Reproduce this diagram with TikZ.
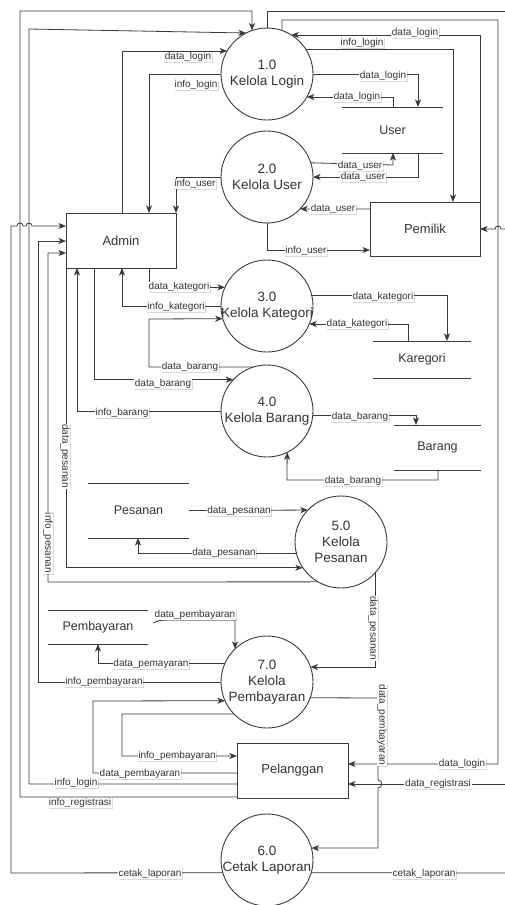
\documentclass[tikz,border=0pt]{standalone}
\usepackage{fontspec}
\setmainfont{Liberation Sans}
\usetikzlibrary{arrows.meta,calc,shadows}

\definecolor{ln}{HTML}{3A3A3A}
\definecolor{tx}{HTML}{333333}

\begin{document}
\begin{tikzpicture}[x=1pt,y=-1pt,
  flow/.style={draw=ln, line width=0.8pt},
  arr/.style={flow, -{Stealth[length=7.5pt,width=6pt,inset=2pt]}},
  proc/.style={circle, draw=ln, line width=0.9pt, fill=white, minimum size=92pt, inner sep=0pt, outer sep=0pt},
  ptext/.style={text=tx, font=\fontsize{13.5}{16}\selectfont, align=center, inner sep=0pt},
  ent/.style={rectangle, draw=ln, line width=0.9pt, fill=white, inner sep=0pt, outer sep=0pt, text=tx, font=\fontsize{13}{15}\selectfont},
  store/.style={rectangle, inner sep=0pt, outer sep=0pt, text=tx, font=\fontsize{12.5}{15}\selectfont},
  storeline/.style={draw=ln, line width=0.9pt},
  lbl/.style={fill=white, inner sep=0.8pt, text=tx, font=\fontsize{10}{11}\selectfont,
    drop shadow={shadow xshift=0.8pt,shadow yshift=-0.8pt,opacity=0.15,fill=black}},
  vlbl/.style={lbl, rotate=-90},
]
\clip (0,0) rectangle (505,905);
\fill[white] (0,0) rectangle (505,905);

% ---------- processes ----------
\node[proc, label={[ptext]center:{1.0\\Kelola Login}}] (p1) at (267,74) {};
\node[proc, label={[ptext]center:{2.0\\Kelola User}}] (p2) at (267,177) {};
\node[proc, label={[ptext]center:{3.0\\Kelola Kategori}}] (p3) at (267,306) {};
\node[proc, label={[ptext]center:{4.0\\Kelola Barang}}] (p4) at (267,411) {};
\node[proc, label={[ptext]center:{5.0\\Kelola\\Pesanan}}] (p5) at (341,542) {};
\node[proc, label={[ptext]center:{7.0\\Kelola\\Pembayaran}}] (p7) at (267,682) {};
\node[proc, label={[ptext]center:{6.0\\Cetak Laporan}}] (p6) at (267,860) {};

% ---------- external entities ----------
\node[ent, minimum width=110pt, minimum height=55pt] (admin) at (121,240.5) {Admin};
\node[ent, minimum width=110pt, minimum height=54pt] (pemilik) at (425,229) {Pemilik};
\node[ent, minimum width=111pt, minimum height=55pt] (pelanggan) at (292.5,770.5) {Pelanggan};

% ---------- data stores ----------
\node[store, minimum width=101pt, minimum height=46pt] (user) at (392.5,130) {User};
\node[store, minimum width=98pt, minimum height=37pt] (kategori) at (422,359.5) {Karegori};
\node[store, minimum width=87pt, minimum height=45pt] (barang) at (437.5,447.5) {Barang};
\node[store, minimum width=101pt, minimum height=55pt] (pesanan) at (138.5,510.5) {Pesanan};
\node[store, minimum width=100pt, minimum height=34pt] (pembayaran) at (98,627) {Pembayaran};
\foreach \s in {user,kategori,barang,pesanan,pembayaran}{
  \draw[storeline] (\s.north west) -- (\s.north east) (\s.south west) -- (\s.south east);
}

% ---------- flows: Admin and Kelola Login / User ----------
\draw[arr] ($(admin.north west)+(56,0)$) |- (p1.150);
\draw[arr] (p1.180) -| ($(admin.north west)+(83,0)$);
\draw[arr] (p2.180) -| (admin.north east);

% ---------- flows from Pelanggan to Kelola Login (left side) ----------
\draw[arr] ($(pelanggan.south west)+(0,-1)$) -- (20,797) -- (20,11) -- (252,11) -- (p1.109);
\draw[arr] ($(pelanggan.south west)+(0,-14)$) -- (29,784) -- (29,29) -- (p1.117);

% ---------- flows into Admin from the left ----------
\draw[arr] (p6.196) -- (11,873) -- (11,226) -- (17,226)
  .. controls (17,222) and (23,222) .. (23,226) -- (26,226)
  .. controls (26,222) and (32,222) .. (32,226) -- ($(admin.north west)+(0,13)$);
\draw[arr] (p7.180) -- (38,682) -- (38,241) -- ($(admin.north west)+(0,28)$);
\draw[arr] (p5.240) -- (48,582) -- (48,253) -- ($(admin.north west)+(0,40)$);
\draw[arr] (admin.south west) |- (p5.214);

% ---------- Admin and Kelola Kategori / Barang ----------
\draw[arr] (p4.180) -| ($(admin.south west)+(11,0)$);
\draw[arr] ($(admin.south west)+(28,0)$) |- (p4.137);
\draw[arr] (p4.107) -- (149,367) -- (149,319) -- (p3.196);
\draw[arr] ($(admin.south west)+(83,0)$) |- (p3.156);
\draw[arr] (p3.180) -| ($(admin.south west)+(56,0)$);

% ---------- Kelola Login, right side ----------
\draw[arr] (p1.0) -| ($(user.north west)+(76,0)$);
\draw[arr] ($(user.north west)+(51,0)$) |- (p1.-30);
\draw[arr] (p1.33) -| ($(pemilik.north west)+(83,0)$);
\draw[arr] (pemilik.north east) |- (p1.58);
\draw[arr] (p1.71) -- (282,20) -- (498,20) -- (498,764) -- ($(pelanggan.north east)+(0,21)$);
\draw[arr] (p1.90) -- (267,11) -- (515,11) -- (515,784) -- ($(pelanggan.north east)+(0,41)$);
\draw[arr] (p6.-16) -- (515,873) -- (515,229) -- (501,229)
  .. controls (501,225) and (495,225) .. (495,229) -- (pemilik.east);

% ---------- Kelola User ----------
\draw[arr] (p2.18) -- (393,165) -- ($(user.south west)+(51,0)$);
\draw[arr] ($(user.south west)+(76,0)$) |- (p2.0);
\draw[arr] ($(pemilik.north west)+(0,7)$) -- (p2.-44);
\draw[arr] (p2.270) |- ($(pemilik.north west)+(0,48)$);

% ---------- Kelola Kategori ----------
\draw[arr] (p3.13) -| ($(kategori.north west)+(74,0)$);
\draw[arr] ($(kategori.north west)+(35,0)$) |- (p3.-23);

% ---------- Kelola Barang ----------
\draw[arr] (p4.-5) -| ($(barang.north west)+(22,0)$);
\draw[arr] ($(barang.south west)+(44,0)$) -- (438,480) -- (287,480) -- (p4.-64);

% ---------- Kelola Pesanan ----------
\draw[arr] (pesanan.east) -- (p5.136);
\draw[arr] (p5.194) -| ($(pesanan.south west)+(50,0)$);
\draw[arr] (p5.-42) |- (p7.19);

% ---------- Kelola Pembayaran ----------
\draw[arr] ($(pembayaran.east)+(5,-4)$) .. controls (160,620) .. (175,620) -- (235,620) -- (p7.134);
\draw[arr] (p7.156) -| (pembayaran.south);
\draw[arr] (p7.-20) -- (378,698) -- (378,780)
  .. controls (383,780) and (383,788) .. (378,788) -- (378,848) -- (p6.15);

% ---------- Pelanggan ----------
\draw[arr] ($(pelanggan.north west)+(0,30)$) -- (93,773) -- (93,701) -- (p7.204);
\draw[arr] (p7.224) -- (122,714) -- (122,756) -- ($(pelanggan.north west)+(0,13)$);

% ---------- flow labels ----------
\node[lbl] (l01) at (188,57) {data\_login};
\node[lbl] (l02) at (196,85) {info\_login};
\node[lbl] (l03) at (195,184) {info\_user};
\node[lbl] (l04) at (383,76) {data\_login};
\node[lbl] (l05) at (357,97) {data\_login};
\node[lbl] (l06) at (362,43) {info\_login};
\node[lbl] (l07) at (415,33) {data\_login};
\node[lbl] (l08) at (360,166) {data\_user};
\node[lbl] (l09) at (363,177) {data\_user};
\node[lbl] (l10) at (333,209) {data\_user};
\node[lbl] (l11) at (306,251) {info\_user};
\node[lbl] (l12) at (179,287) {data\_kategori};
\node[lbl] (l13) at (176,307) {info\_kategori};
\node[lbl] (l14) at (190,367) {data\_barang};
\node[lbl] (l15) at (163,384) {data\_barang};
\node[lbl] (l16) at (122,413) {info\_barang};
\node[lbl] (l17) at (383,297) {data\_kategori};
\node[lbl] (l18) at (357,324) {data\_kategori};
\node[lbl] (l19) at (360,417) {data\_barang};
\node[lbl] (l20) at (353,481) {data\_barang};
\node[vlbl] (l21) at (65,456) {data\_pesanan};
\node[vlbl] (l22) at (48,543) {info\_pesanan};
\node[lbl] (l23) at (239,511) {data\_pesanan};
\node[lbl] (l24) at (224,553) {data\_pesanan};
\node[vlbl] (l25) at (373,628) {data\_pesanan};
\node[lbl] (l26) at (195,615) {data\_pembayaran};
\node[lbl] (l27) at (151,664) {data\_pemayaran};
\node[lbl] (l28) at (104,682) {info\_pembayaran};
\node[vlbl] (l29) at (382,725) {data\_pembayaran};
\node[lbl] (l30) at (177,756) {info\_pembayaran};
\node[lbl] (l31) at (140,774) {data\_pembayaran};
\node[lbl] (l32) at (76,783) {info\_login};
\node[lbl] (l33) at (80,803) {info\_registrasi};
\node[lbl] (l34) at (462,764) {data\_login};
\node[lbl] (l35) at (438,784) {data\_registrasi};
\node[lbl] (l36) at (150,874) {cetak\_laporan};
\node[lbl] (l37) at (424,874) {cetak\_laporan};
\end{tikzpicture}
\end{document}
